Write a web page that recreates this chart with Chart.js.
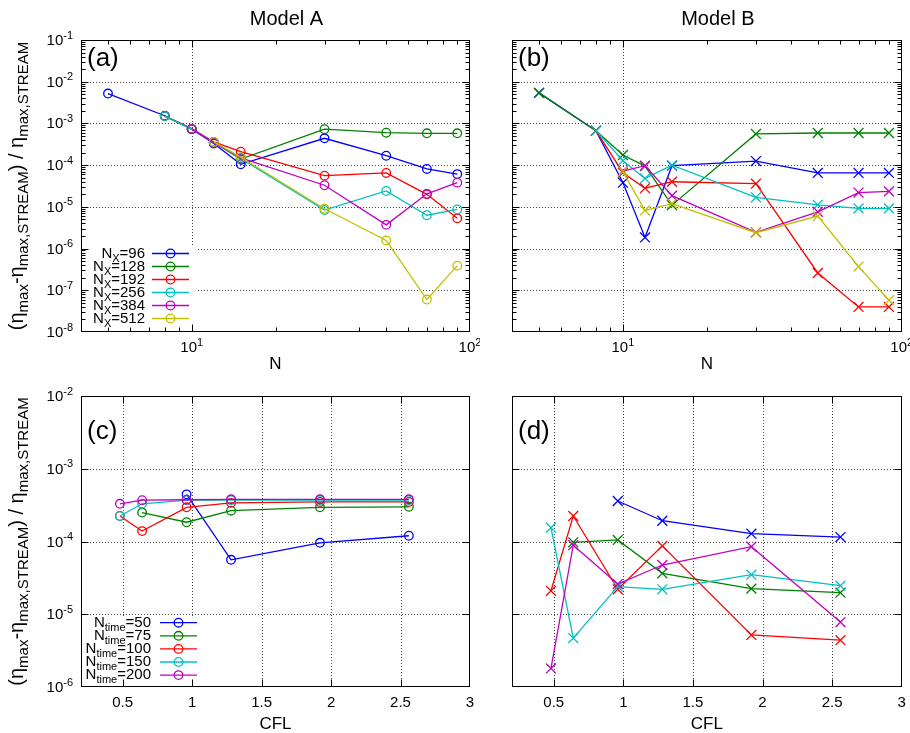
<!DOCTYPE html>
<html>
<head>
<meta charset="utf-8">
<script src="https://cdn.jsdelivr.net/npm/chart.js@4"></script>
<style>
  body { margin: 0; background: #fff; }
  #wrap { position: relative; width: 910px; height: 733px; }
  canvas { position: absolute; }
</style>
</head>
<body>
<div id="wrap">
  <canvas id="cA" width="480" height="378" style="left:0;top:0"></canvas>
  <canvas id="cB" width="430" height="378" style="left:480px;top:0"></canvas>
  <canvas id="cC" width="480" height="355" style="left:0;top:378px"></canvas>
  <canvas id="cD" width="430" height="355" style="left:480px;top:378px"></canvas>
</div>
<script>
// ---- data ----
const nValues = [5, 8, 10, 12, 15, 30, 50, 70, 90];
const nxNames = ["96", "128", "192", "256", "384", "512"];

// Model A: error vs N, one array per Nx (null = no run)
const aNx96  = [5.2e-3, 1.53e-3, 7.3e-4, 3.3e-4, 1.05e-4, 4.4e-4, 1.68e-4, 8.1e-5, 6.1e-5];
const aNx128 = [null, 1.5e-3, 7.4e-4, 3.5e-4, 1.4e-4, 7.3e-4, 6.0e-4, 5.8e-4, 5.8e-4];
const aNx192 = [null, 1.5e-3, 7.5e-4, 3.6e-4, 2.1e-4, 5.6e-5, 6.5e-5, 2.0e-5, 5.3e-6];
const aNx256 = [null, 1.5e-3, 7.3e-4, 3.5e-4, 1.45e-4, 8.4e-6, 2.4e-5, 6.3e-6, 8.7e-6];
const aNx384 = [null, null, 7.3e-4, 3.5e-4, 1.5e-4, 3.3e-5, 3.7e-6, 2.05e-5, 3.8e-5];
const aNx512 = [null, null, null, 3.6e-4, 1.55e-4, 9.0e-6, 1.57e-6, 6.0e-8, 3.9e-7];

// Model B
const bNx96  = [5.4e-3, 6.7e-4, 3.8e-5, 1.85e-6, 9.7e-5, 1.25e-4, 6.5e-5, 6.5e-5, 6.5e-5];
const bNx128 = [5.4e-3, 6.7e-4, 1.75e-4, 9.5e-5, 1.1e-5, 5.6e-4, 5.9e-4, 5.9e-4, 5.9e-4];
const bNx192 = [null, 6.7e-4, 6.6e-5, 2.8e-5, 4.0e-5, 3.6e-5, 2.6e-7, 4.0e-8, 4.0e-8];
const bNx256 = [null, 6.7e-4, 1.28e-4, 4.8e-5, 1.0e-4, 1.69e-5, 1.12e-5, 9.2e-6, 9.2e-6];
const bNx384 = [null, null, 7.2e-5, 9.7e-5, 1.85e-5, 2.45e-6, 7.6e-6, 2.2e-5, 2.35e-5];
const bNx512 = [null, null, 7.0e-5, 8.2e-6, 1.2e-5, 2.4e-6, 6.0e-6, 3.7e-7, 5.8e-8];

// error vs CFL, one array per Ntime
const cflValues = [0.48, 0.64, 0.96, 1.28, 1.92, 2.56];
const ntimeNames = ["50", "75", "100", "150", "200"];
const cT50  = [null, null, 4.45e-4, 5.6e-5, 9.6e-5, 1.2e-4];
const cT75  = [null, 2.5e-4, 1.84e-4, 2.65e-4, 2.95e-4, 3.0e-4];
const cT100 = [2.24e-4, 1.39e-4, 2.95e-4, 3.4e-4, 3.5e-4, 3.5e-4];
const cT150 = [2.24e-4, 3.3e-4, 3.7e-4, 3.7e-4, 3.7e-4, 3.7e-4];
const cT200 = [3.3e-4, 3.7e-4, 3.75e-4, 3.8e-4, 3.8e-4, 3.8e-4];
const dT50  = [null, null, 3.6e-4, 1.93e-4, 1.28e-4, 1.15e-4];
const dT75  = [null, 9.75e-5, 1.05e-4, 3.65e-5, 2.25e-5, 1.98e-5];
const dT100 = [2.1e-5, 2.24e-4, 2.2e-5, 8.7e-5, 5.2e-6, 4.4e-6];
const dT150 = [1.55e-4, 4.7e-6, 2.4e-5, 2.2e-5, 3.5e-5, 2.47e-5];
const dT200 = [1.8e-6, 8.9e-5, 2.6e-5, 4.75e-5, 8.5e-5, 7.8e-6];

// tick labels
const nTicks = [10, 100];
const topYTicks = [1e-8, 1e-7, 1e-6, 1e-5, 1e-4, 1e-3, 1e-2, 1e-1];
const cflTicks = [0.5, 1, 1.5, 2, 2.5, 3];
const botYTicks = [1e-6, 1e-5, 1e-4, 1e-3, 1e-2];

const colors = ["#0000ff", "#008000", "#ff0000", "#00c0c0", "#c000c0", "#c0c000"];
const FONT = '"Liberation Sans", Arial, sans-serif';
const f = px => px + "px " + FONT;

// draws text made of [string, kind] parts; kind 0 normal, 1 subscript, 2 superscript
function drawRich(ctx, parts, x, y, align, big, small, subDy, supDy) {
  let w = 0;
  for (const [t, k] of parts) { ctx.font = f(k ? small : big); w += ctx.measureText(t).width; }
  let cx = align === "right" ? x - w : align === "center" ? x - w / 2 : x;
  ctx.textAlign = "left";
  ctx.textBaseline = "alphabetic";
  for (const [t, k] of parts) {
    ctx.font = f(k ? small : big);
    ctx.fillText(t, cx, y + (k === 1 ? subDy : k === 2 ? -supDy : 0));
    cx += ctx.measureText(t).width;
  }
}

function tickList(scale, labels, minor) {
  const out = [];
  if (scale.type === "logarithmic") {
    const lo = Math.floor(Math.log10(scale.min)), hi = Math.ceil(Math.log10(scale.max));
    for (let d = lo; d <= hi; d++) {
      for (let m = 1; m <= 9; m++) {
        const v = m * Math.pow(10, d);
        if (v < scale.min * 0.999 || v > scale.max * 1.001) continue;
        if (m === 1) out.push({ v, major: true });
        else if (minor) out.push({ v, major: false });
      }
    }
  } else {
    labels.forEach(v => out.push({ v, major: true }));
  }
  return out;
}

function fmt(v, log) {
  if (!log) return [[String(v), 0]];
  return [["10", 0], [String(Math.round(Math.log10(v))), 2]];
}

const gnuPlugin = {
  id: "gnu",
  beforeDatasetsDraw(chart, args, o) {
    const { ctx, chartArea: ca, scales: { x, y } } = chart;
    ctx.save();
    ctx.strokeStyle = "#444";
    ctx.lineWidth = 1;
    ctx.setLineDash([1, 2]);
    ctx.beginPath();
    for (const v of o.xLabels) {
      const px = Math.round(x.getPixelForValue(v)) + 0.5;
      if (px <= ca.left + 2 || px >= ca.right - 2) continue;
      ctx.moveTo(px, ca.top); ctx.lineTo(px, ca.bottom);
    }
    for (const v of o.yLabels) {
      const py = Math.round(y.getPixelForValue(v)) + 0.5;
      if (py <= ca.top + 2 || py >= ca.bottom - 2) continue;
      ctx.moveTo(ca.left, py); ctx.lineTo(ca.right, py);
    }
    ctx.stroke();
    ctx.setLineDash([]);
    if (o.legend) {
      ctx.fillStyle = "#fff";
      ctx.fillRect(ca.left + 1, o.legend.top, o.legend.right - ca.left - 1, ca.bottom - o.legend.top);
    }
    ctx.restore();
  },
  afterDraw(chart, args, o) {
    const { ctx, chartArea: ca, scales: { x, y } } = chart;
    const L = Math.round(ca.left) + 0.5, R = Math.round(ca.right) - 0.5;
    const T = Math.round(ca.top) + 0.5, B = Math.round(ca.bottom) - 0.5;
    ctx.save();
    ctx.strokeStyle = "#000";
    ctx.lineWidth = 1;
    ctx.beginPath();
    for (const t of tickList(x, o.xLabels, o.minor)) {
      const px = Math.round(x.getPixelForValue(t.v)) + 0.5;
      if (px <= L + 1 || px >= R - 1) continue;
      const len = t.major ? 7 : 4;
      ctx.moveTo(px, B); ctx.lineTo(px, B - len);
      ctx.moveTo(px, T); ctx.lineTo(px, T + len);
    }
    for (const t of tickList(y, o.yLabels, o.minor)) {
      const py = Math.round(y.getPixelForValue(t.v)) + 0.5;
      if (py <= T + 1 || py >= B - 1) continue;
      const len = t.major ? 7 : 4;
      ctx.moveTo(L, py); ctx.lineTo(L + len, py);
      ctx.moveTo(R, py); ctx.lineTo(R - len, py);
    }
    ctx.stroke();
    ctx.strokeRect(L, T, R - L, B - T);

    ctx.fillStyle = "#000";
    const xLog = x.type === "logarithmic";
    for (const v of o.xLabels) {
      drawRich(ctx, fmt(v, xLog), x.getPixelForValue(v), ca.bottom + 20, "center", 15, 11, 4, 6.5);
    }
    if (o.showY) {
      for (const v of o.yLabels) {
        drawRich(ctx, fmt(v, true), ca.left - 8, y.getPixelForValue(v) + 5, "right", 15, 11, 4, 6.5);
      }
      ctx.save();
      ctx.translate(23, (ca.top + ca.bottom) / 2);
      ctx.rotate(-Math.PI / 2);
      drawRich(ctx, [["(\u03b7", 0], ["max", 1], ["-\u03b7", 0], ["max,STREAM", 1], [") / \u03b7", 0], ["max,STREAM", 1]],
        0, 0, "center", 20, 15, 5, 6);
      ctx.restore();
    }
    ctx.font = f(17);
    ctx.textAlign = "center";
    ctx.textBaseline = "alphabetic";
    ctx.fillText(o.xTitle, (ca.left + ca.right) / 2, ca.bottom + o.xTitleDy);
    if (o.title) {
      ctx.font = f(20);
      ctx.fillText(o.title, (ca.left + ca.right) / 2 + 11, 25);
    }
    ctx.font = f(26);
    ctx.textAlign = "left";
    ctx.fillText(o.letter, ca.left + 6, ca.top + o.letterDy);

    if (o.legend) {
      const lg = o.legend;
      chart.data.datasets.forEach((ds, i) => {
        const ry = lg.row0 + i * lg.rowH;
        ctx.fillStyle = "#000";
        drawRich(ctx, [["N", 0], [lg.sub, 1], ["=" + ds.label, 0]], lg.textRight, ry + 4, "right", 15, 11, 4, 6);
        ctx.strokeStyle = ds.borderColor;
        ctx.lineWidth = ds.borderWidth;
        ctx.beginPath();
        ctx.moveTo(lg.x0, ry); ctx.lineTo(lg.x1, ry);
        ctx.stroke();
        ctx.lineWidth = ds.pointBorderWidth;
        ctx.beginPath();
        ctx.arc((lg.x0 + lg.x1) / 2, ry, ds.pointRadius, 0, Math.PI * 2);
        ctx.stroke();
      });
    }
    ctx.restore();
  }
};

// axes take no room: the plot box comes from layout padding alone
const noRoomX = s => { s.height = 0; };
const noRoomY = s => { s.width = 0; };

function makeChart(id, xs, series, names, marker, xType, xMin, xMax, yMin, yMax, pad, deco) {
  return new Chart(document.getElementById(id), {
    type: "line",
    data: {
      datasets: series.map((ys, i) => ({
        label: names[i],
        data: xs.map((xv, j) => ({ x: xv, y: ys[j] })).filter(p => p.y !== null),
        borderColor: colors[i],
        backgroundColor: colors[i],
        borderWidth: 1.3,
        pointStyle: marker,
        pointRadius: marker === "circle" ? 4.3 : 7,
        pointBorderWidth: 1.3,
        pointBackgroundColor: "rgba(0,0,0,0)",
        pointBorderColor: colors[i],
        tension: 0,
        fill: false,
        order: series.length - i
      }))
    },
    options: {
      responsive: false,
      animation: false,
      layout: { padding: pad },
      plugins: { legend: { display: false }, tooltip: { enabled: false }, gnu: deco },
      scales: {
        x: { type: xType, min: xMin, max: xMax, afterFit: noRoomX,
             ticks: { display: false }, grid: { display: false, drawTicks: false }, border: { display: false } },
        y: { type: "logarithmic", min: yMin, max: yMax, afterFit: noRoomY,
             ticks: { display: false }, grid: { display: false, drawTicks: false }, border: { display: false } }
      }
    },
    plugins: [gnuPlugin]
  });
}

makeChart("cA", nValues, [aNx96, aNx128, aNx192, aNx256, aNx384, aNx512], nxNames, "circle",
  "logarithmic", 4, 100, 1e-8, 1e-1, { left: 81, right: 10, top: 40, bottom: 46 },
  { xLabels: nTicks, yLabels: topYTicks, minor: true, showY: true, xTitle: "N", xTitleDy: 37,
    title: "Model A", letter: "(a)", letterDy: 26,
    legend: { top: 245, right: 197, row0: 253.5, rowH: 13, textRight: 145, x0: 152, x1: 189, sub: "X" } });

makeChart("cB", nValues, [bNx96, bNx128, bNx192, bNx256, bNx384, bNx512], nxNames, "crossRot",
  "logarithmic", 4, 100, 1e-8, 1e-1, { left: 32, right: 8, top: 40, bottom: 46 },
  { xLabels: nTicks, yLabels: topYTicks, minor: true, showY: false, xTitle: "N", xTitleDy: 37,
    title: "Model B", letter: "(b)", letterDy: 26 });

makeChart("cC", cflValues, [cT50, cT75, cT100, cT150, cT200], ntimeNames, "circle",
  "linear", 0.2, 3, 1e-6, 1e-2, { left: 81, right: 10, top: 18, bottom: 46 },
  { xLabels: cflTicks, yLabels: botYTicks, minor: false, showY: true, xTitle: "CFL", xTitleDy: 42,
    letter: "(c)", letterDy: 43,
    legend: { top: 238, right: 199, row0: 244.7, rowH: 13.1, textRight: 151, x0: 160, x1: 197, sub: "time" } });

makeChart("cD", cflValues, [dT50, dT75, dT100, dT150, dT200], ntimeNames, "crossRot",
  "linear", 0.2, 3, 1e-6, 1e-2, { left: 32, right: 8, top: 18, bottom: 46 },
  { xLabels: cflTicks, yLabels: botYTicks, minor: false, showY: false, xTitle: "CFL", xTitleDy: 42,
    letter: "(d)", letterDy: 43 });
</script>
</body>
</html>
